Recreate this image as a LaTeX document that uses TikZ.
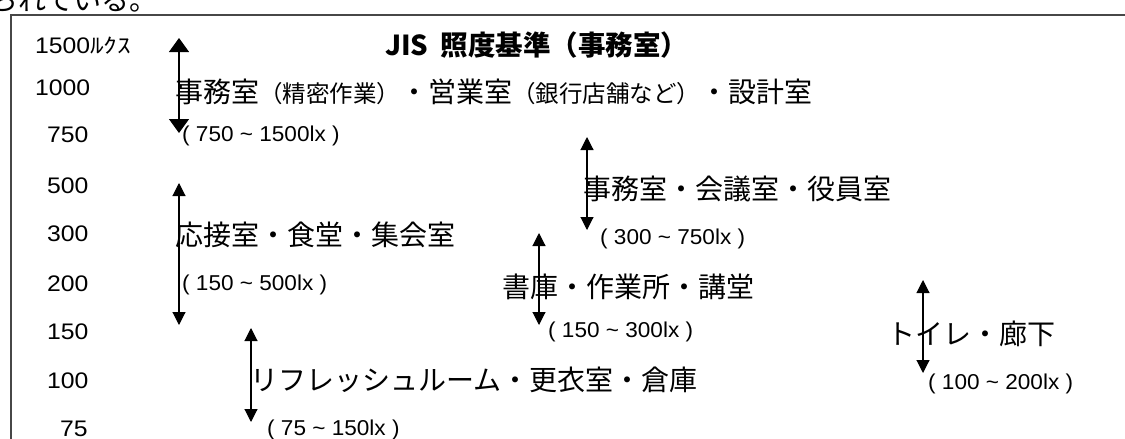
\documentclass[tikz,border=0pt]{standalone}
\usepackage{fontspec}
\setmainfont{Noto Sans CJK JP}
\newfontfamily\numf[FakeStretch=1.1]{Liberation Sans}
\newfontfamily\labf[FakeStretch=1.05]{Liberation Sans}
\newfontfamily\kanaf[FakeStretch=1.3]{Noto Sans CJK JP}
\newcommand{\tld}{{\char"7E}}
\usetikzlibrary{arrows.meta}
\begin{document}
\begin{tikzpicture}[x=1pt,y=-1pt,
  txt/.style={inner sep=0pt, anchor=base west},
  big/.style={txt, font=\fontsize{28}{30}\selectfont},
  ttl/.style={txt, font=\fontsize{27.5}{30}\selectfont\bfseries},
  lab/.style={txt, font=\fontsize{21.5}{24}\selectfont\labf},
  num/.style={txt, font=\fontsize{22.5}{24}\selectfont\numf},
  darr/.style={{Triangle[width=13pt,length=13pt]}-{Triangle[width=13pt,length=13pt]}, line width=1.1pt},
  bigarr/.style={{Triangle[width=20pt,length=14pt]}-{Triangle[width=20pt,length=14pt]}, line width=1.1pt},
  framec/.style={draw=black!72, line width=1.3pt}
]
\useasboundingbox (0,0) rectangle (1125,439);
% frame (continues beyond the right and bottom edges)
\draw[framec] (1140,15) -- (11,15) -- (11,455);
% cut-off text above the frame
\node[big] (topt) at (-10,10) {られている。};
% title
\node[ttl] (title) at (385,55) {JIS\hspace{0.45em}照度基準（事務室）};
% scale
\node[num] (n1500) at (35,53) {1500{\kanaf\fontsize{21}{22}\selectfont ﾙｸｽ}};
\node[num] (n1000) at (35,95) {1000};
\node[num] (n750) at (47,142) {750};
\node[num] (n500) at (47,193) {500};
\node[num] (n300) at (47,241) {300};
\node[num] (n200) at (47,291) {200};
\node[num] (n150) at (47,339) {150};
\node[num] (n100) at (47,388) {100};
\node[num] (n75) at (60,436) {75};
% rooms
\node[big] (r1) at (175,102) {事務室{\fontsize{23.5}{26}\selectfont（精密作業）}・営業室{\fontsize{23.5}{26}\selectfont（銀行店舗など）}・設計室};
\node[lab] (l1) at (182,141) {( 750 \tld{} 1500lx )};
\node[big] (r2) at (583,199) {事務室・会議室・役員室};
\node[lab] (l2) at (600,244) {( 300 \tld{} 750lx )};
\node[big] (r3) at (175,245) {応接室・食堂・集会室};
\node[lab] (l3) at (182,290) {( 150 \tld{} 500lx )};
\node[big] (r4) at (502,297) {書庫・作業所・講堂};
\node[lab] (l4) at (548,337) {( 150 \tld{} 300lx )};
\node[big] (r5) at (887,344) {トイレ・廊下};
\node[lab] (l5) at (928,389) {( 100 \tld{} 200lx )};
\node[big] (r6) at (250,390) {リフレッシュルーム・更衣室・倉庫};
\node[lab] (l6) at (267,435) {( 75 \tld{} 150lx )};
% range arrows
\coordinate (a1t) at (179,38);  \coordinate (a1b) at (179,133);
\coordinate (a2t) at (179,183); \coordinate (a2b) at (179,325);
\coordinate (a3t) at (587,137); \coordinate (a3b) at (587,230);
\coordinate (a4t) at (539,233); \coordinate (a4b) at (539,325);
\coordinate (a5t) at (251,328); \coordinate (a5b) at (251,422);
\coordinate (a6t) at (923,280); \coordinate (a6b) at (923,373);
\draw[bigarr] (a1t) -- (a1b);
\draw[darr] (a2t) -- (a2b);
\draw[darr] (a3t) -- (a3b);
\draw[darr] (a4t) -- (a4b);
\draw[darr] (a5t) -- (a5b);
\draw[darr] (a6t) -- (a6b);
\end{tikzpicture}
\end{document}
